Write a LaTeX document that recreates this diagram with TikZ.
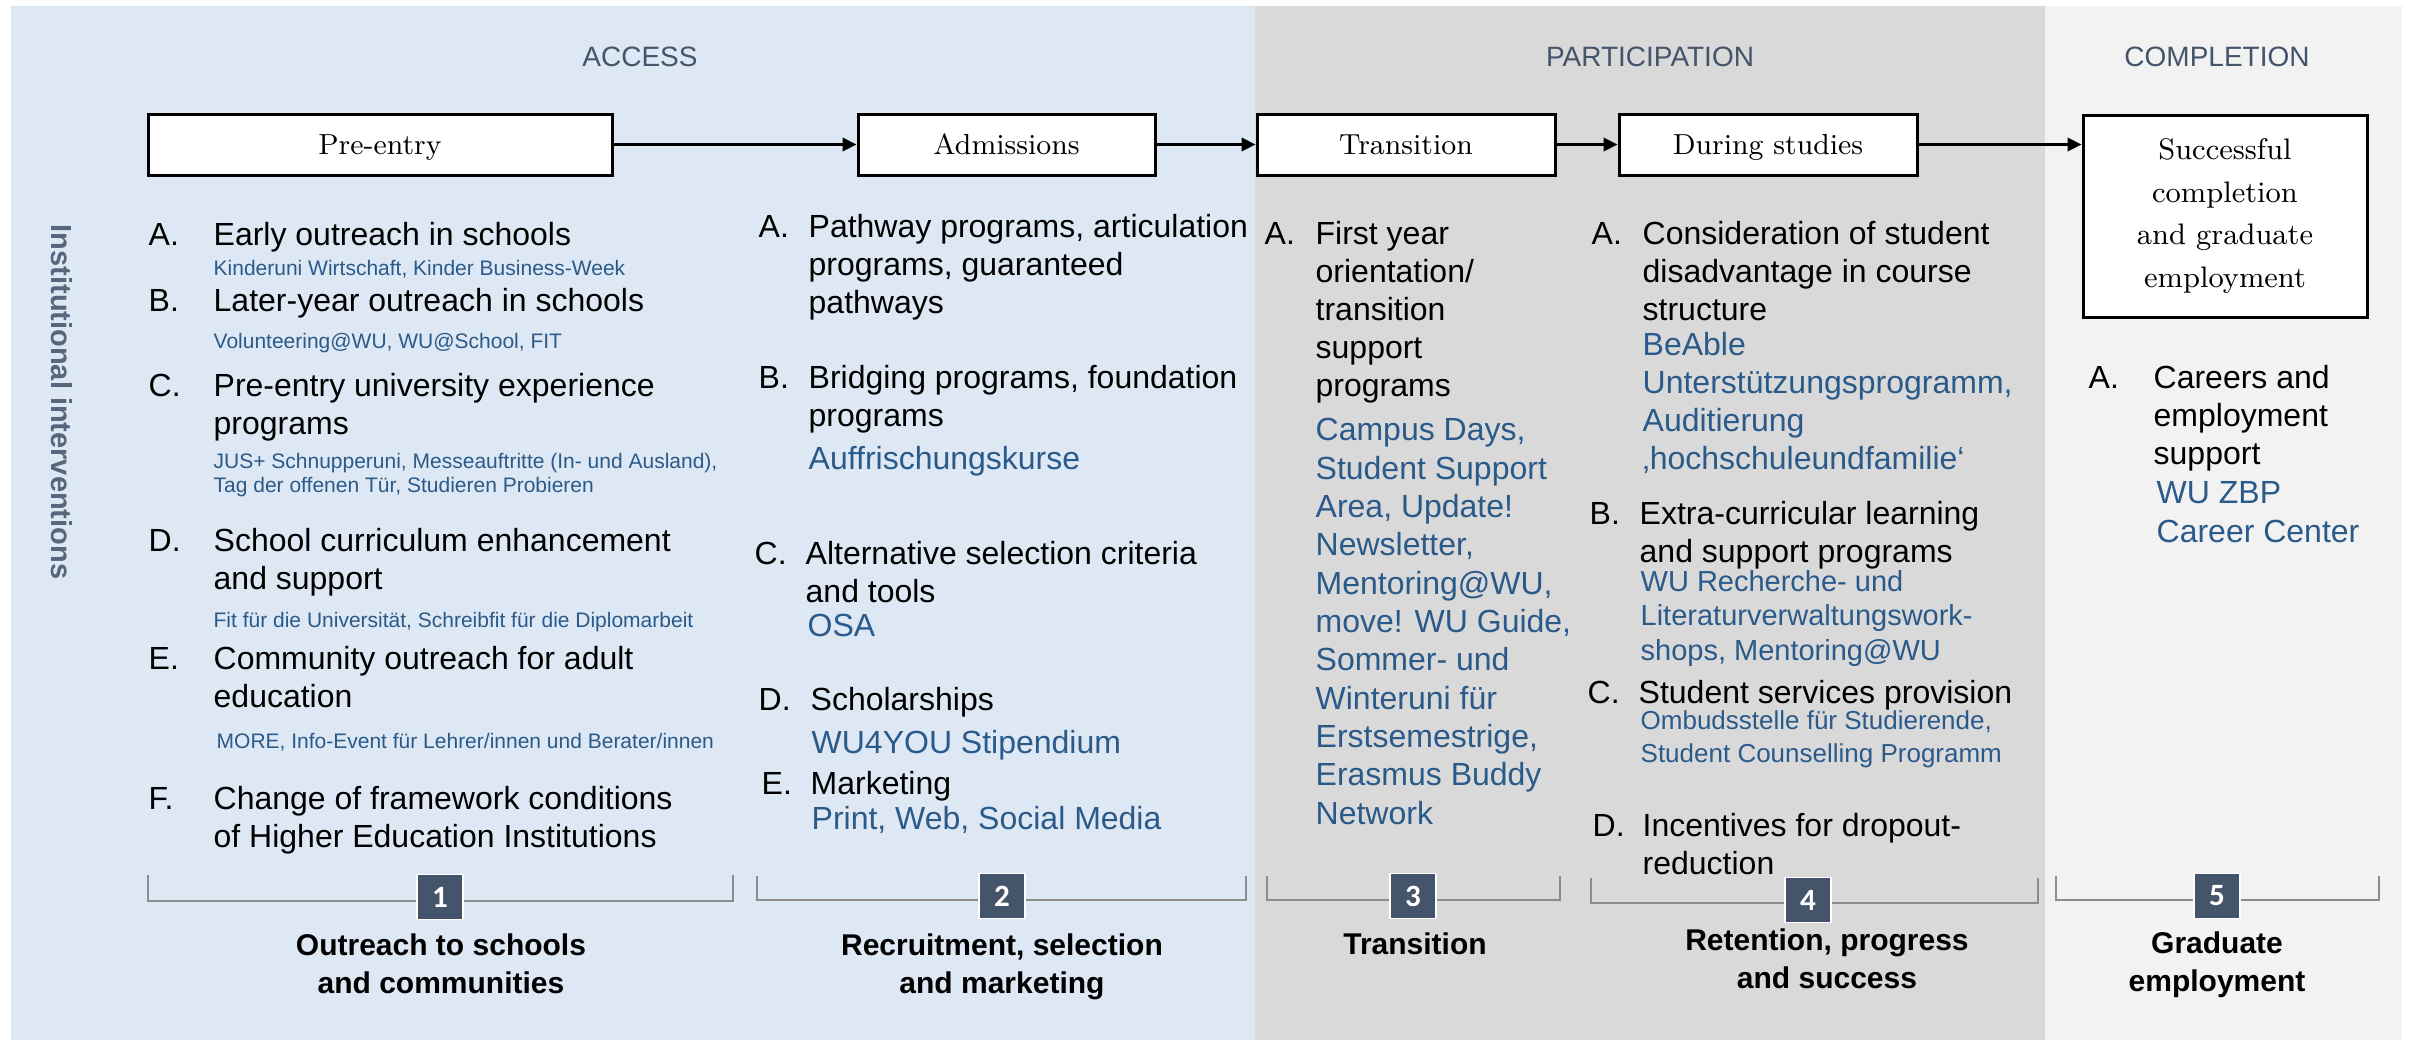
\documentclass[tikz,border=0pt]{standalone}
\usepackage{fontspec}
\setsansfont{Liberation Sans}
\newfontfamily\numfont{Carlito}
\usepackage{tikz}
\usetikzlibrary{arrows.meta}

\definecolor{accessbg}{HTML}{DDE8F4}
\definecolor{partbg}{HTML}{D9D9D9}
\definecolor{complbg}{HTML}{F2F2F2}
\definecolor{slate}{HTML}{44546A}
\definecolor{sidegray}{HTML}{56667C}
\definecolor{exblue}{HTML}{2A5A8A}
\definecolor{brack}{HTML}{8C8C8C}

\tikzset{
  phasehead/.style={anchor=base, inner sep=0pt, text=slate, font=\sffamily\fontsize{8.4}{10}\selectfont},
  stagebox/.style={draw=black, line width=0.9pt, fill=white, inner sep=0pt, minimum height=18.3pt,
    font=\rmfamily\fontsize{8.7}{10}\selectfont},
  stage/.style={stagebox, text height=6.4pt, text depth=0.7pt},
  flow/.style={line width=0.9pt, -{Triangle[length=4.2pt,width=4pt]}},
  itemletter/.style={anchor=base west, inner sep=0pt, font=\sffamily\fontsize{9.6}{11.4}\selectfont},
  itm/.style={anchor=base west, inner sep=0pt, align=left, font=\sffamily\fontsize{9.6}{11.4}\selectfont},
  ex/.style={itm, text=exblue},
  exmid/.style={ex, font=\sffamily\fontsize{8.7}{10.35}\selectfont},
  exsmaller/.style={ex, font=\sffamily\fontsize{7.8}{9.9}\selectfont},
  exsmall/.style={ex, font=\sffamily\fontsize{6.3}{7.2}\selectfont},
  brace/.style={draw=brack, line width=0.6pt},
  numbox/.style={fill=slate, draw=white, line width=0.5pt, text=white, inner sep=0pt,
    minimum width=13.8pt, minimum height=13.5pt, font=\numfont\bfseries\fontsize{9.3}{10}\selectfont},
  area/.style={anchor=base, inner sep=0pt, align=center, font=\sffamily\bfseries\fontsize{9}{11.4}\selectfont},
}

\begin{document}
\begin{tikzpicture}[x=0.3pt, y=-0.3pt]
\useasboundingbox (0,0) rectangle (2410,1040);
\fill[accessbg] (11,6) rectangle (1255,1040);
\fill[partbg] (1255,6) rectangle (2045,1040);
\fill[complbg] (2045,6) rectangle (2402,1040);

\node[phasehead] (access) at (640,66) {ACCESS};
\node[phasehead] (participation) at (1650,66) {PARTICIPATION};
\node[phasehead] (completion) at (2217,66) {COMPLETION};

\node[rotate=-90, text=sidegray, font=\sffamily\bfseries\fontsize{8.7}{10}\selectfont] (side) at (62,402) {Institutional interventions};

\node[stage, minimum width=139.2pt] (pre) at (380,144.5) {Pre-entry};
\node[stage, minimum width=89.1pt] (adm) at (1006.5,144.5) {Admissions};
\node[stage, minimum width=89.4pt] (tra) at (1406,144.5) {Transition};
\node[stage, minimum width=89.4pt] (dur) at (1768,144.5) {During studies};
\node[stagebox, minimum width=85.2pt, minimum height=60.6pt, align=center,
  font=\rmfamily\fontsize{8.9}{12.75}\selectfont] (suc) at (2225,216) {Successful\\completion\\and graduate\\employment};

\draw[flow] (pre) -- (adm);
\draw[flow] (adm) -- (tra);
\draw[flow] (tra) -- (dur);
\draw[flow] (dur.east) -- (dur.east -| suc.west);

% multi-line texts sit on the baseline of their last line
\node[itemletter] (l1a) at (148,245) {A.};
\node[itm] (t1a) at (213,245) {Early outreach in schools};
\node[exsmall] (e1a) at (213,275) {Kinderuni Wirtschaft, Kinder Business-Week};
\node[itemletter] (l1b) at (148,311) {B.};
\node[itm] (t1b) at (213,311) {Later-year outreach in schools};
\node[exsmall] (e1b) at (213,348) {Volunteering@WU, WU@School, FIT};
\node[itemletter] (l1c) at (148,396) {C.};
\node[itm] (t1c) at (213,434) {Pre-entry university experience\\programs};
\node[exsmall] (e1c) at (213,492) {JUS+ Schnupperuni, Messeauftritte (In- und Ausland),\\Tag der offenen Tür, Studieren Probieren};
\node[itemletter] (l1d) at (148,551) {D.};
\node[itm] (t1d) at (213,589) {School curriculum enhancement\\and support};
\node[exsmall] (e1d) at (213,627) {Fit für die Universität, Schreibfit für die Diplomarbeit};
\node[itemletter] (l1e) at (148,669) {E.};
\node[itm] (t1e) at (213,707) {Community outreach for adult\\education};
\node[exsmall] (e1e) at (216,748) {MORE, Info-Event für Lehrer/innen und Berater/innen};
\node[itemletter] (l1f) at (148,809) {F.};
\node[itm] (t1f) at (213,847) {Change of framework conditions\\of Higher Education Institutions};

\node[itemletter] (l2a) at (758,237) {A.};
\node[itm] (t2a) at (808,313) {Pathway programs, articulation\\programs, guaranteed\\pathways};
\node[itemletter] (l2b) at (758,388) {B.};
\node[itm] (t2b) at (808,426) {Bridging programs, foundation\\programs};
\node[ex] (e2b) at (808,469) {Auffrischungskurse};
\node[itemletter] (l2c) at (754,564) {C.};
\node[itm] (t2c) at (805,602) {Alternative selection criteria\\and tools};
\node[ex] (e2c) at (807,636) {OSA};
\node[itemletter] (l2d) at (758,710) {D.};
\node[itm] (t2d) at (810,710) {Scholarships};
\node[ex] (e2d) at (811,753) {WU4YOU Stipendium};
\node[itemletter] (l2e) at (761,794) {E.};
\node[itm] (t2e) at (810,794) {Marketing};
\node[ex] (e2e) at (811,829) {Print, Web, Social Media};

\node[itemletter] (l3a) at (1264,244) {A.};
\node[itm] (t3a) at (1315,396) {First year\\orientation/\\transition\\support\\programs};
\node[ex, font=\sffamily\fontsize{9.6}{11.5}\selectfont] (e3a) at (1315,824) {Campus Days,\\Student Support\\Area, Update!\\Newsletter,\\Mentoring@WU,\\move! WU Guide,\\Sommer- und\\Winteruni für\\Erstsemestrige,\\Erasmus Buddy\\Network};

\node[itemletter] (l4a) at (1591,244) {A.};
\node[itm] (t4a) at (1642,320) {Consideration of student\\disadvantage in course\\structure};
\node[ex] (e4a) at (1642,469) {BeAble\\Unterstützungsprogramm,\\Auditierung\\‚hochschuleundfamilie‘};
\node[itemletter] (l4b) at (1589,524) {B.};
\node[itm] (t4b) at (1639,562) {Extra-curricular learning\\and support programs};
\node[exmid] (e4b) at (1640,660) {WU Recherche- und\\Literaturverwaltungswork-\\shops, Mentoring@WU};
\node[itemletter] (l4c) at (1587,703) {C.};
\node[itm] (t4c) at (1638,703) {Student services provision};
\node[exsmaller] (e4c) at (1640,762) {Ombudsstelle für Studierende,\\Student Counselling Programm};
\node[itemletter] (l4d) at (1592,836) {D.};
\node[itm] (t4d) at (1642,874) {Incentives for dropout-\\reduction};

\node[itemletter] (l5a) at (2088,388) {A.};
\node[itm] (t5a) at (2153,464) {Careers and\\employment\\support};
\node[ex, font=\sffamily\fontsize{9.6}{11.7}\selectfont] (e5a) at (2156,542) {WU ZBP\\Career Center};

\draw[brace] (148,875) -- (148,901) -- (733,901) -- (733,875);
\node[numbox] (n1) at (440,897) {1};
\node[area] (g1) at (441,993) {Outreach to schools\\and communities};

\draw[brace] (757,876) -- (757,900) -- (1246,900) -- (1246,876);
\node[numbox] (n2) at (1002,896) {2};
\node[area] (g2) at (1002,993) {Recruitment, selection\\and marketing};

\draw[brace] (1267,876) -- (1267,900) -- (1560,900) -- (1560,876);
\node[numbox] (n3) at (1413,896) {3};
\node[area] (g3) at (1415,954) {Transition};

\draw[brace] (1591,878) -- (1591,903) -- (2038,903) -- (2038,878);
\node[numbox] (n4) at (1808,900) {4};
\node[area] (g4) at (1827,988) {Retention, progress\\and success};

\draw[brace] (2056,876) -- (2056,900) -- (2379,900) -- (2379,876);
\node[numbox] (n5) at (2217,896) {5};
\node[area] (g5) at (2217,991) {Graduate\\employment};
\end{tikzpicture}
\end{document}
